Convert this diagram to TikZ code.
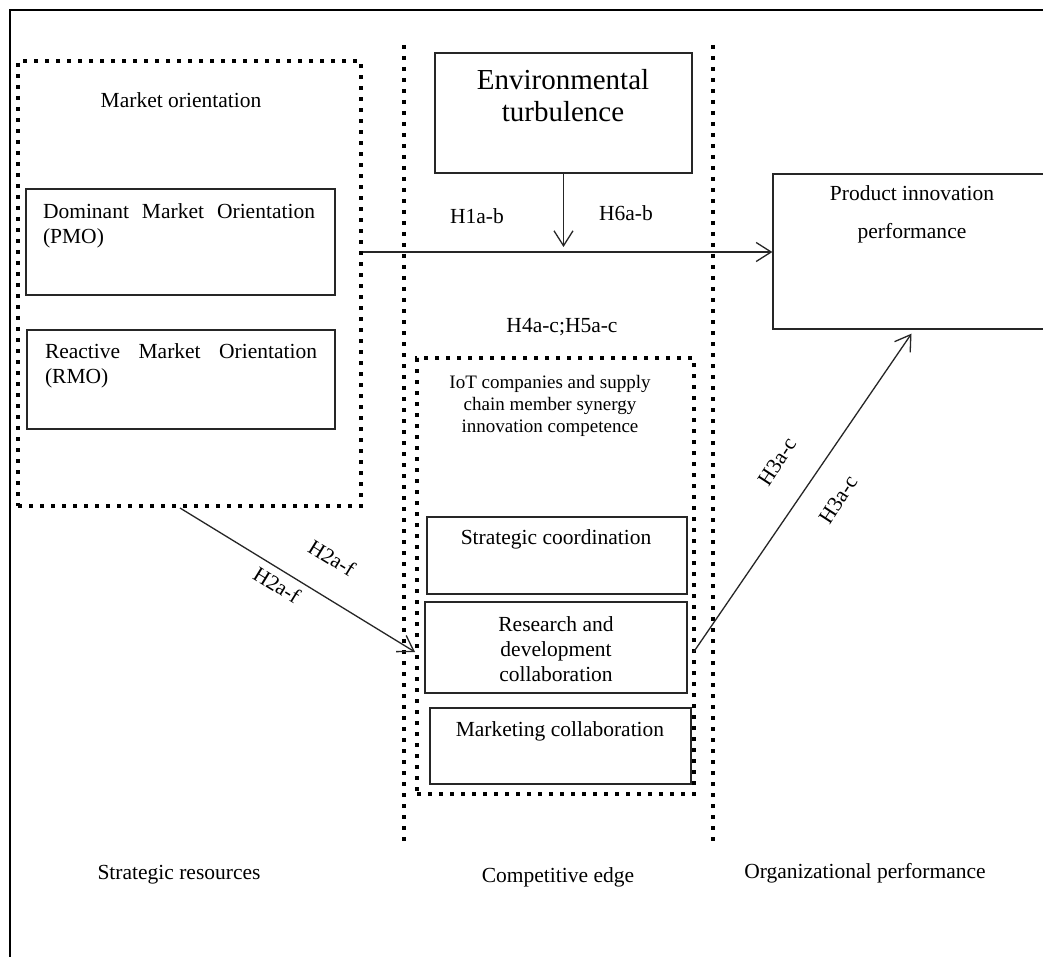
\documentclass[tikz,border=0pt]{standalone}
\usepackage{fontspec}
\setmainfont{Liberation Serif}
\usetikzlibrary{arrows.meta,calc}
\begin{document}
\begin{tikzpicture}[x=1pt,y=-1pt,
  box/.style={draw=black!85,line width=1.3pt,inner sep=0pt,rectangle},
  dotbox/.style={draw=black,line width=4pt,dash pattern=on 4pt off 7pt,inner sep=0pt,rectangle},
  dotline/.style={draw=black,line width=4pt,dash pattern=on 4pt off 7pt},
  txt/.style={inner sep=0pt,font=\fontsize{21.5}{25}\selectfont,align=center},
  smalltxt/.style={inner sep=0pt,font=\fontsize{19}{22}\selectfont,align=center},
  bigtxt/.style={inner sep=0pt,font=\fontsize{29}{32}\selectfont,align=center},
  arr/.style={draw=black!85,line width=1.3pt,-{Straight Barb[length=15pt,width=19pt]}},
]
\useasboundingbox (0,0) rectangle (1043,957);
\fill[white] (0,0) rectangle (1043,957);

% outer frame (only top and left visible)
\coordinate (fbl) at (10,975);
\coordinate (ftl) at (10,10);
\coordinate (ftr) at (1060,10);
\draw[line width=2pt] (fbl) -- (ftl) -- (ftr);

% dotted separators
\coordinate (d1t) at (404,45);
\coordinate (d1b) at (404,842);
\coordinate (d2t) at (713,45);
\coordinate (d2b) at (713,842);
\draw[dotline] (d1t) -- (d1b);
\draw[dotline] (d2t) -- (d2b);

% market orientation group
\node[dotbox,minimum width=343pt,minimum height=445pt] (mo) at (189.5,283.5) {};
\node[txt] (motxt) at (181,100) {Market orientation};
\node[box,minimum width=309pt,minimum height=106pt] (dmo) at (180.5,242) {};
\node[txt,text width=272pt,align=left] (dmotxt) at (179,225.5) {Dominant\hfill Market\hfill Orientation\\(PMO)};
\node[box,minimum width=308pt,minimum height=99pt] (rmo) at (181,379.5) {};
\node[txt,text width=272pt,align=left] (rmotxt) at (181,365.5) {Reactive\hfill Market\hfill Orientation\\(RMO)};

% environmental turbulence
\node[box,minimum width=257pt,minimum height=120pt] (env) at (563.5,113) {};
\node[bigtxt] (envtxt) at (563,96) {Environmental\\turbulence};

% product innovation performance
\node[box,minimum width=277pt,minimum height=155pt] (prod) at (911.5,251.5) {};
\node[txt,font=\fontsize{21.5}{38}\selectfont] (prodtxt) at (912,214) {Product innovation\\performance};

% IoT synergy group
\node[dotbox,minimum width=277pt,minimum height=436pt] (iot) at (555.5,576) {};
\node[smalltxt] (iottxt) at (550,406) {IoT companies and supply\\chain member synergy\\innovation competence};
\node[box,minimum width=260pt,minimum height=77pt] (sc) at (557,555.5) {};
\node[txt] (sctxt) at (556,539) {Strategic coordination};
\node[box,minimum width=262pt,minimum height=91pt] (rd) at (556,647.5) {};
\node[txt] (rdtxt) at (556,649) {Research and\\development\\collaboration};
\node[box,minimum width=261pt,minimum height=76pt] (mc) at (560.5,746) {};
\node[txt] (mctxt) at (560,731) {Marketing collaboration};

% hypothesis labels
\node[txt] (h1) at (477,216) {H1a-b};
\node[txt] (h6) at (626,213) {H6a-b};
\node[txt] (h45) at (562,327) {H4a-c;H5a-c};
\node[txt,rotate=-31.6] (h2a) at (332,558) {H2a-f};
\node[txt,rotate=-31.6] (h2b) at (277,585) {H2a-f};
\node[txt,rotate=57] (h3a) at (777,462) {H3a-c};
\node[txt,rotate=57] (h3b) at (838,500) {H3a-c};

% bottom labels
\node[txt] (lsr) at (179,875) {Strategic resources};
\node[txt] (lce) at (558,877) {Competitive edge};
\node[txt] (lop) at (865,873) {Organizational performance};

% connectors
\coordinate (j) at (563.5,252);
\draw[arr] (mo.east |- j) -- (prod.west |- j);
\draw[arr] (env.south) -- ([yshift=5pt]j);
\draw[arr] ([xshift=-9.5pt]mo.south) -- ($(iot.west |- rd.east)+(0,4.5)$);
\draw[arr] ([xshift=6pt,yshift=-4.5pt]rd.east) -- ([yshift=-4pt]prod.south);
\end{tikzpicture}
\end{document}
